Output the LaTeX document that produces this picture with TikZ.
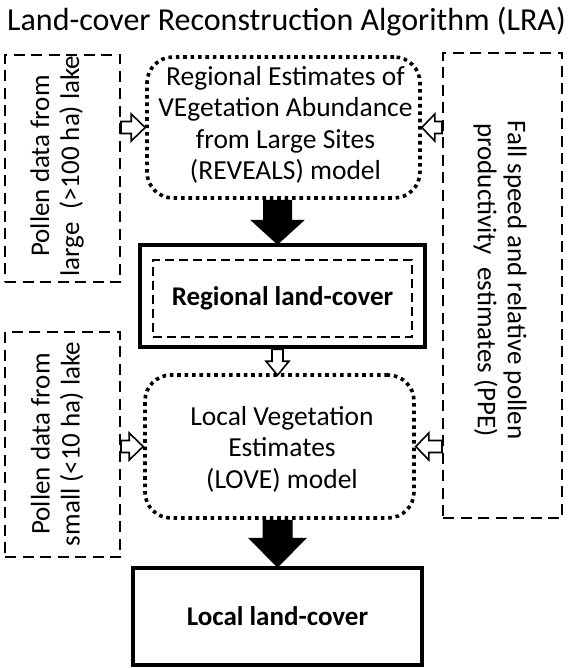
\documentclass[tikz,border=0pt]{standalone}
\usepackage{fontspec}
\setmainfont{Carlito}
\usetikzlibrary{calc}
\newcommand\blockarr[6]{%
  \coordinate (tmpH) at ($(#2)!#5!(#1)$);
  \draw[#6] ($(#1)!#3!90:(#2)$) -- ($(tmpH)!#3!90:(#2)$) -- ($(tmpH)!#4!90:(#2)$) -- (#2)
     -- ($(tmpH)!#4!-90:(#2)$) -- ($(tmpH)!#3!-90:(#2)$) -- ($(#1)!#3!-90:(#2)$) -- cycle;}
\tikzset{
  dashbox/.style={draw, line width=2pt, dash pattern=on 11pt off 6.5pt, inner sep=0pt},
  dotbox/.style={draw, line width=3.6pt, dash pattern=on 3.6pt off 3.8pt, rounded corners=26pt, inner sep=0pt},
  thickbox/.style={draw, line width=4.5pt, inner sep=0pt},
  innerdash/.style={draw, line width=1.6pt, dash pattern=on 9pt off 5pt, inner sep=0pt},
  txt/.style={font=\fontsize{27.5}{31.5}\selectfont, align=center},
  rtxt/.style={font=\fontsize{27}{30}\selectfont, align=center},
  btxt/.style={font=\fontsize{27}{31}\selectfont\bfseries, align=center},
  hollow/.style={draw, line width=1.6pt, fill=white, line join=miter},
  blackarr/.style={fill=black, draw=none}
}
\begin{document}
\begin{tikzpicture}[x=1pt,y=-1pt]
\useasboundingbox (0,0) rectangle (573,668);
\fill[white] (0,0) rectangle (573,668);

\node[font=\fontsize{32}{36}\selectfont, anchor=base] (title) at (286.5,31) {Land-cover Reconstruction Algorithm (LRA)};

% side boxes
\node[dashbox, minimum width=115pt, minimum height=227pt] (b1) at (62.5,168.5) {};
\node[rtxt, rotate=90] (b1t) at (57,166) {Pollen data from\\large\ \ (>100 ha) lake};
\node[dashbox, minimum width=115pt, minimum height=225pt] (b2) at (62.5,444.5) {};
\node[rtxt, rotate=90] (b2t) at (57,444) {Pollen data from\\small (<10 ha) lake};
\node[dashbox, minimum width=119pt, minimum height=465pt] (rb) at (502.5,285.5) {};
\node[rtxt, rotate=-90] (rbt) at (500,280) {Fall speed and relative pollen\\productivity\ \ estimates (PPE)};

% central column
\node[dotbox, minimum width=273pt, minimum height=141pt] (top) at (283.5,127.5) {};
\node[txt] (topt) at (285.5,125) {Regional Estimates of\\VEgetation Abundance\\from Large Sites\\(REVEALS) model};
\node[thickbox, minimum width=285pt, minimum height=102pt] (reg) at (282.5,296) {};
\node[innerdash, minimum width=259pt, minimum height=77pt, btxt] (regin) at (282.5,298.5) {Regional land-cover};
\node[dotbox, minimum width=269pt, minimum height=143pt] (loc) at (279.5,446.5) {};
\node[txt] (loct) at (282,449) {Local Vegetation\\Estimates\\(LOVE) model};
\node[thickbox, minimum width=289pt, minimum height=97pt, btxt] (llc) at (277.5,616.5) {Local land-cover};

% arrows
\coordinate (mx) at (277.5,0);
\coordinate (a1s) at (top.south -| mx);
\coordinate (a1e) at ([yshift=-2pt]reg.north -| mx);
\blockarr{a1s}{a1e}{14.5pt}{27.5pt}{25pt}{blackarr}
\coordinate (a2s) at (reg.south -| mx);
\coordinate (a2e) at ([yshift=-2pt]loc.north -| mx);
\blockarr{a2s}{a2e}{5.5pt}{11.5pt}{14pt}{hollow}
\coordinate (a3s) at (loc.south -| mx);
\coordinate (a3e) at ([yshift=-2pt]llc.north -| mx);
\blockarr{a3s}{a3e}{15pt}{29.5pt}{30pt}{blackarr}

\coordinate (l1s) at (b1.east |- top.west);
\blockarr{l1s}{top.west}{6pt}{13.5pt}{14pt}{hollow}
\coordinate (l2s) at (b2.east |- loc.west);
\blockarr{l2s}{loc.west}{6pt}{13.5pt}{14pt}{hollow}
\coordinate (r1s) at (rb.west |- top.east);
\blockarr{r1s}{top.east}{6pt}{13.5pt}{13pt}{hollow}
\coordinate (r2s) at (rb.west |- loc.east);
\blockarr{r2s}{loc.east}{6pt}{13.5pt}{13pt}{hollow}
\end{tikzpicture}
\end{document}
